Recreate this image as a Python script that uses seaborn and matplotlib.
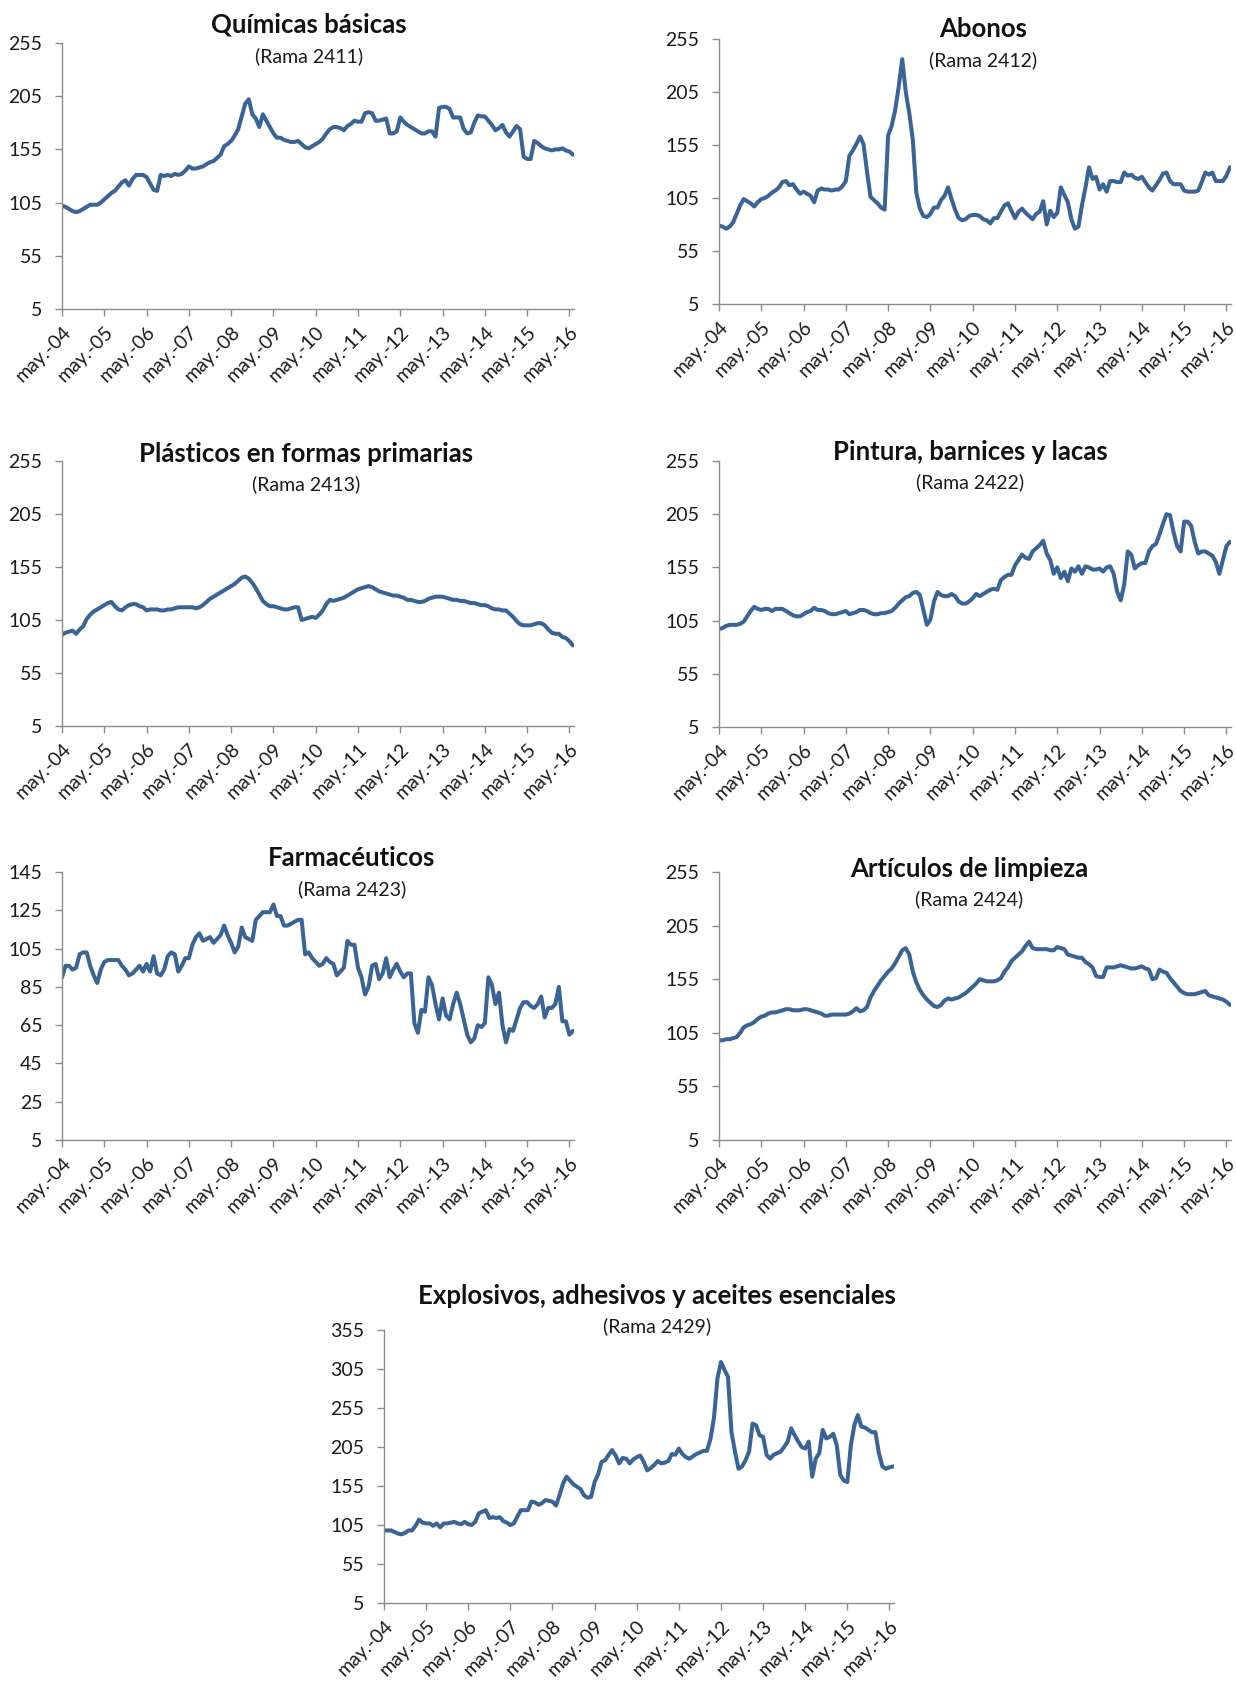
import numpy as np
import pandas as pd
import seaborn as sns
import matplotlib.pyplot as plt

# monthly index values, may-04 .. jun-16 (146 months)
quimicas = [102, 101, 99, 97, 96, 97, 99, 101, 103, 103, 103, 105,
            108, 111, 114, 116, 120, 124, 126, 121, 127, 131, 131, 131,
            129, 123, 117, 116, 131, 130, 131, 130, 132, 131, 132, 135,
            139, 137, 137, 138, 139, 141, 143, 144, 147, 150, 158, 160,
            163, 168, 174, 186, 198, 202, 188, 184, 176, 188, 182, 176,
            170, 166, 166, 164, 163, 162, 162, 163, 160, 157, 156, 158,
            160, 162, 165, 170, 174, 176, 176, 175, 173, 177, 179, 182,
            181, 181, 189, 190, 189, 182, 182, 183, 184, 170, 170, 172,
            185, 181, 178, 176, 174, 172, 170, 170, 172, 172, 167, 194,
            195, 195, 193, 185, 185, 185, 174, 170, 171, 180, 187, 186,
            186, 182, 178, 173, 175, 178, 171, 167, 172, 177, 174, 148,
            146, 146, 163, 161, 158, 156, 155, 154, 155, 155, 156, 154,
            153, 150]

abonos = [79, 78, 76, 78, 82, 90, 98, 104, 102, 100, 97, 101,
          104, 105, 107, 110, 112, 115, 120, 121, 117, 118, 113, 109,
          111, 109, 107, 101, 112, 114, 113, 113, 112, 113, 113, 116,
          121, 145, 150, 156, 163, 156, 130, 106, 103, 100, 96, 94,
          164, 173, 188, 210, 236, 205, 185, 160, 110, 95, 88, 87,
          90, 96, 96, 103, 107, 115, 104, 94, 86, 84, 85, 88,
          89, 89, 88, 85, 84, 81, 86, 86, 92, 98, 100, 93,
          86, 92, 95, 91, 88, 85, 90, 92, 102, 80, 93, 87,
          91, 115, 108, 101, 85, 76, 78, 98, 115, 134, 123, 125,
          113, 118, 111, 121, 121, 120, 120, 129, 126, 127, 124, 123,
          125, 120, 115, 112, 117, 122, 128, 129, 121, 118, 118, 118,
          112, 111, 111, 111, 112, 120, 129, 127, 129, 121, 121, 121,
          126, 134]

plasticos = [91, 93, 94, 95, 92, 96, 99, 106, 110, 113, 115, 117,
             119, 121, 122, 118, 115, 114, 117, 119, 120, 120, 118, 117,
             114, 115, 115, 115, 114, 114, 115, 115, 116, 117, 117, 117,
             117, 117, 116, 117, 119, 122, 125, 127, 129, 131, 133, 135,
             137, 139, 142, 145, 146, 144, 140, 135, 129, 123, 120, 118,
             118, 117, 116, 115, 115, 116, 117, 117, 105, 106, 107, 108,
             107, 110, 114, 120, 124, 123, 124, 125, 126, 128, 130, 132,
             134, 135, 136, 137, 136, 134, 132, 131, 130, 129, 128, 128,
             127, 126, 124, 124, 123, 122, 122, 123, 125, 126, 127, 127,
             127, 126, 125, 124, 124, 123, 123, 122, 121, 121, 120, 119,
             119, 118, 116, 115, 115, 114, 114, 111, 108, 104, 101, 100,
             100, 100, 101, 102, 102, 100, 96, 93, 92, 92, 89, 88,
             85, 81]

pintura = [97, 98, 100, 101, 101, 101, 102, 104, 109, 114, 118, 116,
           115, 116, 116, 114, 116, 116, 116, 114, 112, 110, 109, 109,
           111, 113, 114, 117, 115, 115, 114, 112, 111, 111, 112, 113,
           114, 111, 112, 113, 115, 115, 114, 112, 111, 111, 112, 112,
           113, 114, 117, 121, 124, 127, 128, 131, 132, 129, 115, 101,
           106, 123, 132, 129, 128, 128, 130, 128, 123, 121, 121, 123,
           126, 130, 128, 130, 132, 134, 135, 134, 143, 146, 148, 148,
           157, 162, 167, 164, 163, 170, 173, 176, 180, 168, 162, 149,
           155, 145, 151, 142, 154, 151, 156, 149, 156, 155, 153, 153,
           154, 151, 155, 156, 149, 132, 124, 139, 170, 167, 154, 157,
           159, 159, 170, 175, 177, 186, 196, 205, 204, 188, 175, 170,
           198, 198, 194, 179, 168, 170, 170, 168, 166, 160, 149, 162,
           175, 179]

farma = [90, 96, 96, 94, 95, 102, 103, 103, 96, 91, 87, 94,
         98, 99, 99, 99, 99, 96, 94, 91, 92, 94, 96, 93,
         97, 93, 101, 92, 91, 94, 101, 103, 102, 93, 96, 100,
         100, 107, 111, 113, 109, 110, 111, 108, 110, 112, 117, 112,
         108, 103, 106, 116, 111, 110, 109, 120, 122, 124, 124, 124,
         128, 122, 122, 117, 117, 118, 119, 120, 120, 102, 103, 100,
         98, 96, 97, 100, 98, 97, 91, 93, 95, 109, 107, 107,
         95, 90, 81, 85, 96, 97, 89, 92, 100, 90, 94, 97,
         93, 90, 92, 92, 66, 61, 73, 72, 90, 86, 76, 68,
         79, 70, 68, 76, 82, 76, 68, 60, 56, 58, 65, 64,
         66, 90, 86, 76, 82, 65, 56, 63, 62, 68, 74, 77,
         77, 75, 74, 76, 80, 69, 74, 74, 76, 85, 67, 67,
         60, 62]

limpieza = [98, 98, 99, 99, 100, 101, 105, 110, 112, 113, 115, 118,
            120, 121, 123, 124, 124, 125, 126, 127, 127, 126, 126, 126,
            127, 127, 126, 125, 124, 123, 121, 121, 122, 122, 122, 122,
            122, 123, 125, 128, 125, 126, 129, 138, 144, 149, 154, 158,
            162, 165, 170, 176, 182, 184, 178, 162, 152, 145, 140, 136,
            133, 130, 129, 131, 135, 137, 136, 137, 138, 140, 142, 145,
            148, 151, 155, 154, 153, 153, 153, 154, 156, 162, 166, 172,
            175, 178, 181, 186, 190, 184, 183, 183, 183, 183, 182, 182,
            185, 184, 183, 178, 177, 176, 175, 175, 171, 169, 166, 158,
            157, 157, 166, 166, 166, 167, 168, 167, 166, 165, 165, 166,
            167, 165, 164, 155, 156, 164, 162, 161, 156, 152, 148, 144,
            142, 141, 141, 141, 142, 143, 144, 140, 139, 138, 137, 136,
            134, 131]

explosivos = [98, 98, 98, 96, 94, 93, 95, 98, 98, 104, 112, 108,
              107, 107, 104, 107, 102, 107, 107, 108, 109, 107, 106, 109,
              106, 105, 109, 120, 122, 124, 114, 115, 114, 115, 110, 108,
              105, 107, 116, 124, 124, 124, 135, 134, 131, 133, 137, 136,
              135, 130, 143, 158, 167, 162, 157, 154, 151, 143, 140, 141,
              160, 170, 186, 188, 195, 201, 194, 184, 191, 190, 184, 189,
              192, 194, 186, 175, 178, 182, 187, 184, 185, 187, 196, 195,
              203, 196, 192, 190, 193, 196, 198, 200, 200, 215, 242, 293,
              314, 304, 295, 224, 199, 177, 180, 188, 199, 235, 233, 220,
              218, 195, 190, 195, 197, 199, 205, 212, 229, 220, 212, 205,
              203, 212, 167, 190, 197, 227, 216, 218, 222, 207, 169, 162,
              160, 207, 233, 246, 231, 230, 227, 224, 224, 197, 180, 177,
              179, 180]

titles = ["Químicas básicas", "Abonos", "Plásticos en formas primarias",
          "Pintura, barnices y lacas", "Farmacéuticos", "Artículos de limpieza",
          "Explosivos, adhesivos y aceites esenciales"]
subtitles = ["(Rama 2411)", "(Rama 2412)", "(Rama 2413)", "(Rama 2422)",
             "(Rama 2423)", "(Rama 2424)", "(Rama 2429)"]
series = [quimicas, abonos, plasticos, pintura, farma, limpieza, explosivos]
yticks_all = [list(range(5, 256, 50))] * 4 + [list(range(5, 146, 20))] + \
             [list(range(5, 256, 50))] + [list(range(5, 356, 50))]
year_labels = ["may.-%02d" % y for y in range(4, 17)]

sns.set_style("ticks")
plt.rcParams['font.family'] = ['Lato', 'DejaVu Sans']

W, H = 1236, 1682
fig = plt.figure(figsize=(W / 100, H / 100), dpi=100)

# axes boxes in pixels: left, right, top, bottom
boxes = [(62, 574, 43, 309), (719, 1231, 39, 304),
         (62, 574, 461, 726), (719, 1231, 461, 727),
         (62, 574, 872, 1140), (719, 1231, 872, 1140),
         (384, 894, 1330, 1603)]
# title / subtitle positions in pixels (x, y_title, y_sub)
text_pos = [(309, 24, 56), (983, 29, 60), (306, 454, 484), (970, 452, 482),
            (352, 858, 889), (969, 869, 899), (657, 1296, 1326)]

line_color = "#3a6396"
months = np.arange(146)

for i in range(7):
    l, r, t, b = boxes[i]
    ax = fig.add_axes([l / W, 1 - b / H, (r - l) / W, (b - t) / H])
    df = pd.DataFrame({"mes": months, "valor": series[i]})
    sns.lineplot(data=df, x="mes", y="valor", ax=ax, color=line_color, linewidth=2.9)
    yt = yticks_all[i]
    ax.set_ylim(yt[0], yt[-1])
    ax.set_yticks(yt)
    ax.set_xlim(0, 145.3)
    ax.set_xticks(range(0, 145, 12))
    ax.set_xticklabels(year_labels, rotation=45, ha="right", rotation_mode="anchor")
    ax.set_xlabel("")
    ax.set_ylabel("")
    sns.despine(ax=ax)
    for s in ["left", "bottom"]:
        ax.spines[s].set_color("#8c8c8c")
        ax.spines[s].set_linewidth(1.0)
    ax.tick_params(axis="both", labelsize=14, colors="#8c8c8c", labelcolor="#1a1a1a",
                   length=5, width=1.0, direction="out")
    ax.tick_params(axis="y", pad=9)
    ax.tick_params(axis="x", pad=5)

    x, yt_, ys = text_pos[i]
    fig.text(x / W, 1 - yt_ / H, titles[i], ha="center", va="center",
             fontsize=18.5, fontweight="bold", color="#111111")
    fig.text(x / W, 1 - ys / H, subtitles[i], ha="center", va="center",
             fontsize=14, color="#1a1a1a")

fig.savefig("out.png", dpi=100)
